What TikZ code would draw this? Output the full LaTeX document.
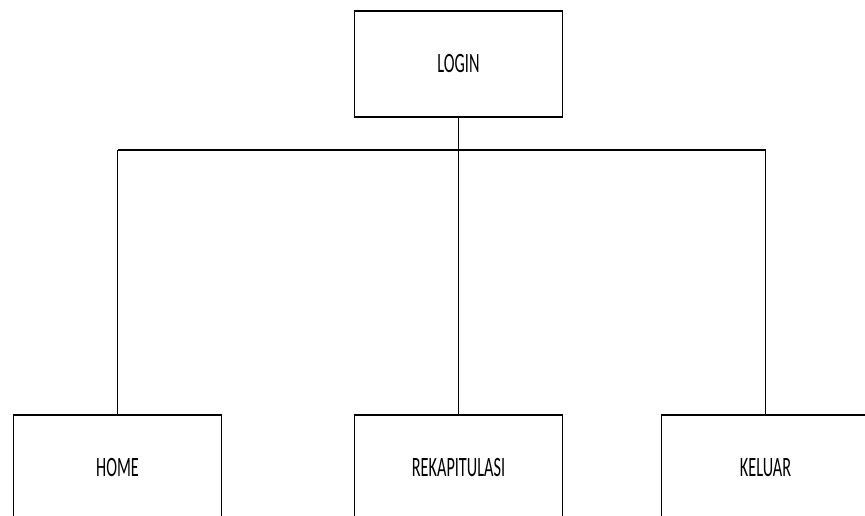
\documentclass[tikz,border=0pt]{standalone}
\usepackage{fontspec}
\setmainfont{Carlito}
\tikzset{
  menubox/.style={draw=black, line width=1.3pt, fill=white, minimum width=208pt, minimum height=106pt, inner sep=0pt,
    font=\fontsize{28}{30}\selectfont},
  conn/.style={draw=black, line width=1.1pt},
  bar/.style={draw=black, line width=1.8pt}
}
\newcommand{\nar}[1]{\scalebox{0.58}[1]{#1}}
\begin{document}
\begin{tikzpicture}[x=1pt,y=-1pt]
\useasboundingbox (0,0) rectangle (865,515);
\clip (0,0) rectangle (865,515);
\fill[white] (0,0) rectangle (865,515);
\node[menubox] (login) at (458.5,64) {\nar{LOGIN}};
\node[menubox] (home) at (117.5,468) {\nar{HOME}};
\node[menubox] (rekap) at (458.5,468) {\nar{REKAPITULASI}};
\node[menubox] (keluar) at (765.5,468) {\nar{KELUAR}};
\coordinate (barmid) at (458.5,150);
\coordinate (barL) at (home.north |- barmid);
\coordinate (barR) at (keluar.north |- barmid);
\draw[conn] (login.south) -- (barmid);
\draw[bar] (barL) -- (barR);
\draw[conn] (barL) -- (home.north);
\draw[conn] (barmid) -- (rekap.north);
\draw[conn] (barR) -- (keluar.north);
\end{tikzpicture}
\end{document}
